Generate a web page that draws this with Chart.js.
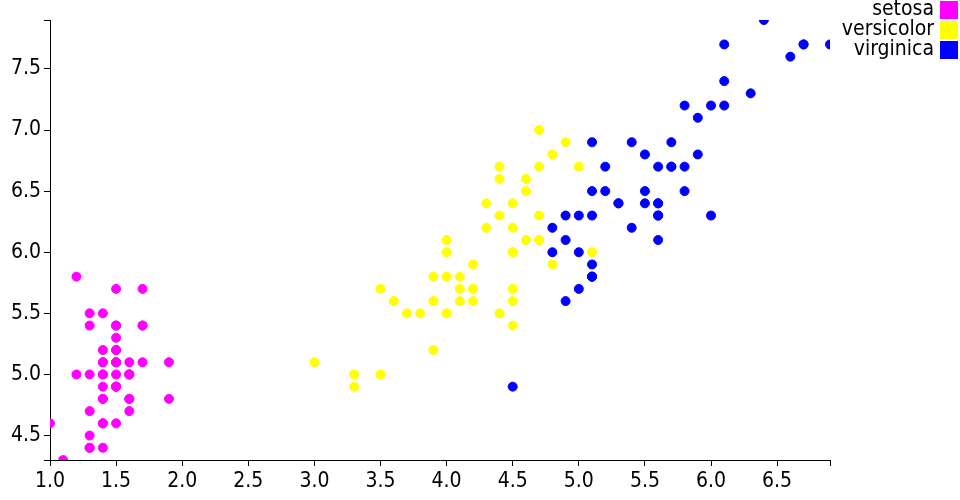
<!DOCTYPE html>
<html>
<head>
<meta charset="utf-8">
<script src="https://cdn.jsdelivr.net/npm/chart.js@4.4.0/dist/chart.umd.min.js"></script>
<style>
  html, body { margin: 0; padding: 0; background: #fff; }
  #wrap { width: 960px; height: 500px; }
</style>
</head>
<body>
<div id="wrap"><canvas id="iris" width="960" height="500"></canvas></div>
<script>
var FONT = '"Liberation Sans Narrow", "DejaVu Sans Condensed", sans-serif';

var species = ['setosa', 'versicolor', 'virginica'];
var colors = ['#ff00ff', '#ffff00', '#0000ff'];

// petal length (x) / sepal length (y)
var setosaPetal = [1.4,1.4,1.3,1.5,1.4,1.7,1.4,1.5,1.4,1.5,1.5,1.6,1.4,1.1,1.2,1.5,1.3,1.4,1.7,1.5,1.7,1.5,1.0,1.7,1.9,1.6,1.6,1.5,1.4,1.6,1.6,1.5,1.5,1.4,1.5,1.2,1.3,1.5,1.3,1.5,1.3,1.3,1.3,1.6,1.9,1.4,1.6,1.4,1.5,1.4];
var setosaSepal = [5.1,4.9,4.7,4.6,5.0,5.4,4.6,5.0,4.4,4.9,5.4,4.8,4.8,4.3,5.8,5.7,5.4,5.1,5.7,5.1,5.4,5.1,4.6,5.1,4.8,5.0,5.0,5.2,5.2,4.7,4.8,5.4,5.2,5.5,4.9,5.0,5.5,4.9,4.4,5.1,5.0,4.5,4.4,5.0,5.1,4.8,5.1,4.6,5.3,5.0];

var versicolorPetal = [4.7,4.5,4.9,4.0,4.6,4.5,4.7,3.3,4.6,3.9,3.5,4.2,4.0,4.7,3.6,4.4,4.5,4.1,4.5,3.9,4.8,4.0,4.9,4.7,4.3,4.4,4.8,5.0,4.5,3.5,3.8,3.7,3.9,5.1,4.5,4.5,4.7,4.4,4.1,4.0,4.4,4.6,4.0,3.3,4.2,4.2,4.2,4.3,3.0,4.1];
var versicolorSepal = [7.0,6.4,6.9,5.5,6.5,5.7,6.3,4.9,6.6,5.2,5.0,5.9,6.0,6.1,5.6,6.7,5.6,5.8,6.2,5.6,5.9,6.1,6.3,6.1,6.4,6.6,6.8,6.7,6.0,5.7,5.5,5.5,5.8,6.0,5.4,6.0,6.7,6.3,5.6,5.5,5.5,6.1,5.8,5.0,5.6,5.7,5.7,6.2,5.1,5.7];

var virginicaPetal = [6.0,5.1,5.9,5.6,5.8,6.6,4.5,6.3,5.8,6.1,5.1,5.3,5.5,5.0,5.1,5.3,5.5,6.7,6.9,5.0,5.7,4.9,6.7,4.9,5.7,6.0,4.8,4.9,5.6,5.8,6.1,6.4,5.6,5.1,5.6,6.1,5.6,5.5,4.8,5.4,5.6,5.1,5.1,5.9,5.7,5.2,5.0,5.2,5.4,5.1];
var virginicaSepal = [6.3,5.8,7.1,6.3,6.5,7.6,4.9,7.3,6.7,7.2,6.5,6.4,6.8,5.7,5.8,6.4,6.5,7.7,7.7,6.0,6.9,5.6,7.7,6.3,6.7,7.2,6.2,6.1,6.4,7.2,7.4,7.9,6.4,6.3,6.1,7.7,6.3,6.4,6.0,6.9,6.7,6.9,5.8,6.8,6.7,6.7,6.3,6.5,6.2,5.9];

var xTicks = [1.0,1.5,2.0,2.5,3.0,3.5,4.0,4.5,5.0,5.5,6.0,6.5];
var yTicks = [4.5,5.0,5.5,6.0,6.5,7.0,7.5];
var xExtent = [1.0, 6.9];
var yExtent = [4.3, 7.9];

var petals = [setosaPetal, versicolorPetal, virginicaPetal];
var sepals = [setosaSepal, versicolorSepal, virginicaSepal];

var datasets = species.map(function(name, i) {
    var pts = petals[i].map(function(p, k) { return {x: p, y: sepals[i][k]}; });
    return {
        label: name,
        data: pts,
        backgroundColor: colors[i],
        borderColor: colors[i],
        pointRadius: 4.5,
        pointBorderWidth: 1,
        pointHoverRadius: 4.5,
        order: species.length - i
    };
});

// ticks at the nice values plus the domain ends (like an outer tick)
function tickSetter(list, ext) {
    return function(scale) {
        var vals = list.slice();
        if (vals[0] !== ext[0]) vals.unshift(ext[0]);
        if (vals[vals.length - 1] !== ext[1]) vals.push(ext[1]);
        scale.ticks = vals.map(function(v) { return {value: v}; });
    };
}
function tickLabel(list) {
    return function(value) {
        return list.indexOf(Math.round(value * 10) / 10) >= 0 ? value.toFixed(1) : '';
    };
}

var sideLegend = {
    id: 'sideLegend',
    afterDraw: function(chart) {
        var ctx = chart.ctx;
        ctx.save();
        ctx.font = '21px ' + FONT;
        ctx.textAlign = 'right';
        ctx.textBaseline = 'middle';
        chart.data.datasets.forEach(function(ds, i) {
            var top = 1 + i * 20;
            ctx.fillStyle = ds.backgroundColor;
            ctx.fillRect(940, top, 18, 18);
            ctx.fillStyle = '#000';
            ctx.fillText(ds.label, 934, top + 9);
        });
        ctx.restore();
    }
};

var ctx = document.getElementById('iris').getContext('2d');
var irisChart = new Chart(ctx, {
    type: 'scatter',
    data: { datasets: datasets },
    options: {
        responsive: false,
        animation: false,
        events: [],
        layout: { padding: { top: 20, right: 130, left: 0, bottom: 0 } },
        plugins: { legend: { display: false }, tooltip: { enabled: false } },
        scales: {
            x: {
                type: 'linear',
                min: xExtent[0],
                max: xExtent[1],
                afterBuildTicks: tickSetter(xTicks, xExtent),
                afterFit: function(scale) { scale.height = 40; },
                grid: { drawOnChartArea: false, drawTicks: true, tickLength: 6, color: '#000', lineWidth: 1 },
                border: { display: true, color: '#000', width: 1 },
                ticks: {
                    color: '#000', padding: 3, maxRotation: 0, autoSkip: false,
                    font: { family: FONT, size: 21 },
                    callback: tickLabel(xTicks)
                }
            },
            y: {
                type: 'linear',
                min: yExtent[0],
                max: yExtent[1],
                afterBuildTicks: tickSetter(yTicks, yExtent),
                afterFit: function(scale) { scale.width = 50; },
                grid: { drawOnChartArea: false, drawTicks: true, tickLength: 6, color: '#000', lineWidth: 1 },
                border: { display: true, color: '#000', width: 1 },
                ticks: {
                    color: '#000', padding: 3, autoSkip: false,
                    font: { family: FONT, size: 21 },
                    callback: tickLabel(yTicks)
                }
            }
        }
    },
    plugins: [sideLegend]
});
</script>
</body>
</html>
